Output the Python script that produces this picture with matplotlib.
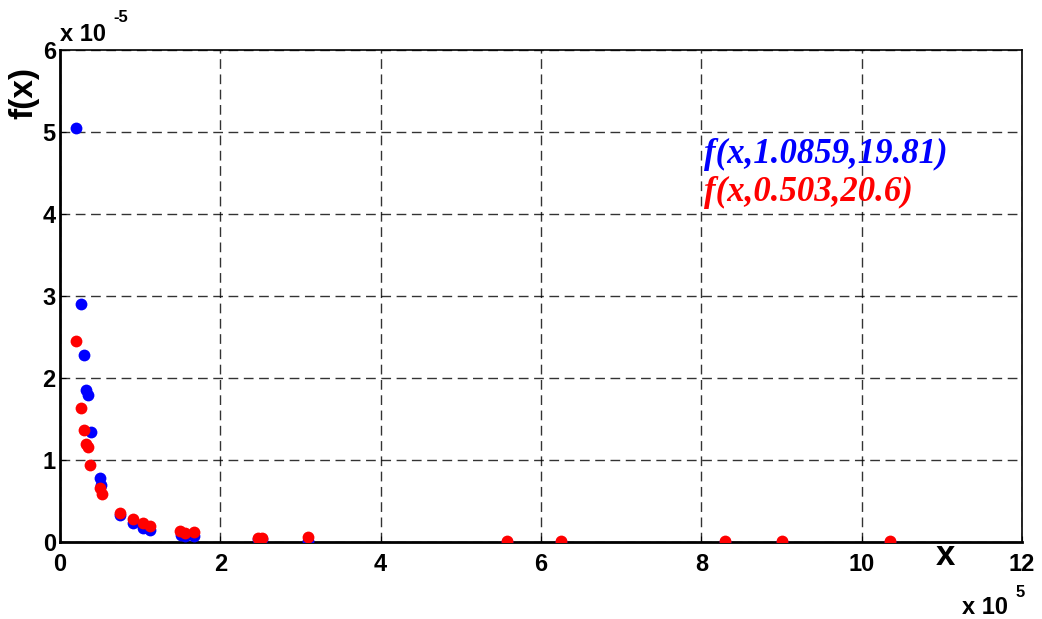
import numpy as np
import matplotlib
matplotlib.use("Agg")
import matplotlib.pyplot as plt

# Sample values, x in units of 1e5 and f(x) in units of 1e-5
x_blue = [0.20, 0.262, 0.30, 0.324, 0.35, 0.383, 0.495, 0.516, 0.748, 0.906, 1.03, 1.127,
          1.505, 1.56, 1.676, 2.47, 2.515, 3.09, 5.58, 6.25, 8.30, 9.00, 10.35]
y_blue = [5.05, 2.90, 2.28, 1.85, 1.79, 1.34, 0.78, 0.70, 0.33, 0.23, 0.175, 0.146,
          0.085, 0.07, 0.077, 0.033, 0.033, 0.016, 0.006, 0.005, 0.003, 0.003, 0.002]

x_red = [0.20, 0.262, 0.30, 0.32, 0.35, 0.378, 0.495, 0.52, 0.748, 0.91, 1.03, 1.12,
         1.50, 1.56, 1.67, 2.47, 2.515, 3.09, 5.58, 6.25, 8.30, 9.00, 10.35]
y_red = [2.45, 1.63, 1.37, 1.20, 1.155, 0.94, 0.655, 0.585, 0.35, 0.277, 0.228, 0.199,
         0.138, 0.113, 0.118, 0.052, 0.052, 0.061, 0.012, 0.012, 0.01, 0.01, 0.01]

label_blue = "f(x,1.0859,19.81)"
label_red = "f(x,0.503,20.6)"

xticks = [0, 2, 4, 6, 8, 10, 12]
yticks = [0, 1, 2, 3, 4, 5, 6]

plt.rcParams["font.family"] = "Liberation Sans"
plt.rcParams["font.weight"] = "bold"

fig = plt.figure(figsize=(10.42, 6.19), dpi=100)
ax = fig.add_axes([0.0576, 0.1244, 0.9232, 0.7948])

ax.plot(x_blue, y_blue, "o", color="#0000ff", markersize=8.5, markeredgewidth=0, zorder=3)
ax.plot(x_red, y_red, "o", color="#ff0000", markersize=8.5, markeredgewidth=0, zorder=4)

ax.set_xlim(0, 12)
ax.set_ylim(0, 6)
ax.set_xticks(xticks)
ax.set_yticks(yticks)
ax.set_xticklabels([str(t) for t in xticks], fontsize=17, fontweight="bold")
ax.set_yticklabels([str(t) for t in yticks], fontsize=17, fontweight="bold")
ax.tick_params(axis="x", direction="in", length=4, pad=8)
ax.tick_params(axis="y", direction="in", length=4, pad=3)

ax.grid(True, color="black", linestyle=(0, (7, 4)), linewidth=1.0, alpha=0.8)
ax.set_axisbelow(True)

for side in ["left", "bottom"]:
    ax.spines[side].set_linewidth(2.0)
for side in ["top", "right"]:
    ax.spines[side].set_linewidth(1.2)

# axis names
ax.text(0.92, -0.027, "x", transform=ax.transAxes, fontsize=25, fontweight="bold",
        ha="center", va="center")
fig.text(0.023, 0.85, "f(x)", rotation=90, fontsize=24, fontweight="bold",
         ha="center", va="center")

# scale factors
fig.text(0.058, 0.945, "x 10", fontsize=17, fontweight="bold", ha="left", va="center")
fig.text(0.109, 0.972, "-5", fontsize=12, fontweight="bold", ha="left", va="center")
fig.text(0.923, 0.018, "x 10", fontsize=17, fontweight="bold", ha="left", va="center")
fig.text(0.975, 0.043, "5", fontsize=12, fontweight="bold", ha="left", va="center")

# curve labels
ax.text(0.669, 0.787, label_blue, transform=ax.transAxes, color="#0000ff",
        family="Liberation Serif", style="italic", fontweight="bold", fontsize=25,
        ha="left", va="center")
ax.text(0.669, 0.711, label_red, transform=ax.transAxes, color="#ff0000",
        family="Liberation Serif", style="italic", fontweight="bold", fontsize=25,
        ha="left", va="center")

fig.savefig("out.png", dpi=100)
